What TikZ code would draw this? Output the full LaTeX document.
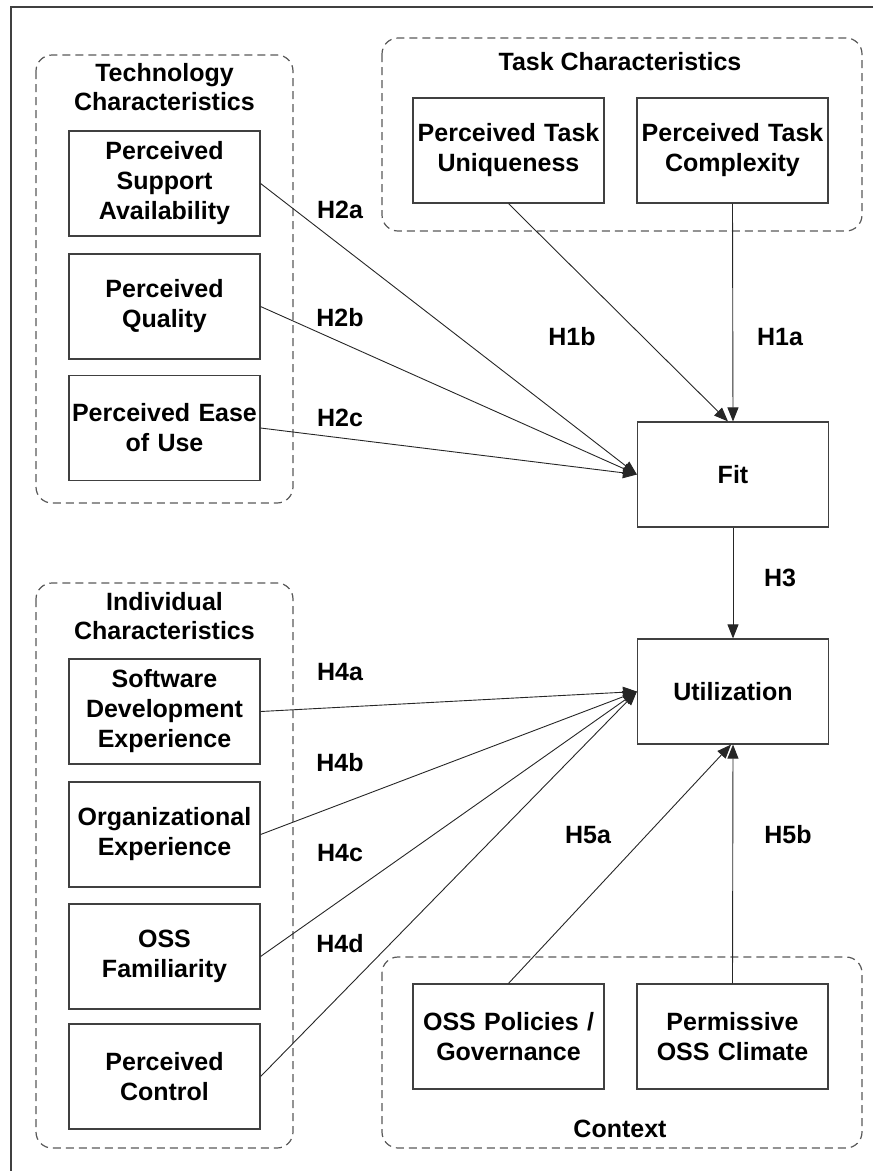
\documentclass[tikz,border=0pt]{standalone}
\usepackage{fontspec}
\setmainfont{Liberation Sans}
\usetikzlibrary{arrows.meta}
\tikzset{
  varbox/.style={draw=black!75, line width=1.2pt, fill=white, minimum width=191pt, minimum height=105pt, text width=187pt, inner sep=2pt, align=center, font=\fontsize{25}{30}\selectfont\bfseries},
  grouptitle/.style={align=center, inner sep=0pt, font=\fontsize{25}{29}\selectfont\bfseries},
  hyp/.style={inner sep=0pt, font=\fontsize{25}{29}\selectfont\bfseries},
  groupframe/.style={draw=black!65, line width=1.2pt, dash pattern=on 8pt off 5pt, rounded corners=16pt},
  link/.style={draw=black!85, line width=0.9pt, -{Triangle[length=14pt,width=11pt]}}
}
\begin{document}
\begin{tikzpicture}[x=1pt,y=-1pt]
    %%%%% FRAME %%%%%
    \useasboundingbox (0,0) rectangle (882,1171);
    \draw[black!75, line width=1.2pt] (873,7) -- (11,7) -- (11,1171);

    %%%%% GROUPS %%%%%
    \draw[groupframe] (36,55) rectangle (293,503);
    \draw[groupframe] (382,38) rectangle (862,231);
    \draw[groupframe] (36,583) rectangle (293,1148);
    \draw[groupframe] (382,957) rectangle (862,1148);

    \node[grouptitle] (techtitle) at (164.5,87.5) {Technology\\Characteristics};
    \node[grouptitle] (tasktitle) at (620,62) {Task Characteristics};
    \node[grouptitle] (indivtitle) at (164.5,616.5) {Individual\\Characteristics};
    \node[grouptitle] (contexttitle) at (620,1129) {Context};

    %%%%% VARIABLES %%%%%
    \node[varbox] (psa) at (164.5,183.5) {Perceived\\Support\\Availability};
    \node[varbox] (pq) at (164.5,306.5) {Perceived\\Quality};
    \node[varbox] (peu) at (164.5,428) {Perceived Ease\\of Use};

    \node[varbox] (ptu) at (508.5,150.5) {Perceived Task\\Uniqueness};
    \node[varbox] (ptc) at (732.5,150.5) {Perceived Task\\Complexity};

    \node[varbox] (fit) at (733,474.5) {Fit};
    \node[varbox] (util) at (733,691.5) {Utilization};

    \node[varbox] (sde) at (164.5,711.5) {Software\\Development\\Experience};
    \node[varbox] (oe) at (164.5,834.5) {Organizational\\Experience};
    \node[varbox] (ossf) at (164.5,956.5) {OSS\\Familiarity};
    \node[varbox] (pc) at (164.5,1076.5) {Perceived\\Control};

    \node[varbox] (pol) at (508.5,1036.5) {OSS Policies /\\Governance};
    \node[varbox] (clim) at (732.5,1036.5) {Permissive\\OSS Climate};

    %%%%% HYPOTHESES %%%%%
    \draw[link] (ptc.south) -- (fit.north);
    \draw[link] (ptu.south) -- ([xshift=-5pt]fit.north);
    \draw[link] (psa.east) -- (fit.west);
    \draw[link] (pq.east) -- (fit.west);
    \draw[link] (peu.east) -- (fit.west);
    \draw[link] (fit.south) -- (util.north);
    \foreach \src in {sde,oe,ossf,pc}
      \draw[link] (\src.east) -- (util.west);
    \draw[link] (pol.north) -- ([xshift=-2pt]util.south);
    \draw[link] (clim.north) -- (util.south);

    \node[hyp] (h2a) at (340,210) {H2a};
    \node[hyp] (h2b) at (340,318) {H2b};
    \node[hyp] (h2c) at (340,418) {H2c};
    \node[hyp] (h1b) at (572,337) {H1b};
    \node[hyp] (h1a) at (780,337) {H1a};
    \node[hyp] (h3) at (780,578) {H3};
    \node[hyp] (h4a) at (340,672) {H4a};
    \node[hyp] (h4b) at (340,763) {H4b};
    \node[hyp] (h4c) at (340,853) {H4c};
    \node[hyp] (h4d) at (340,944) {H4d};
    \node[hyp] (h5a) at (588,835) {H5a};
    \node[hyp] (h5b) at (788,835) {H5b};
\end{tikzpicture}
\end{document}
